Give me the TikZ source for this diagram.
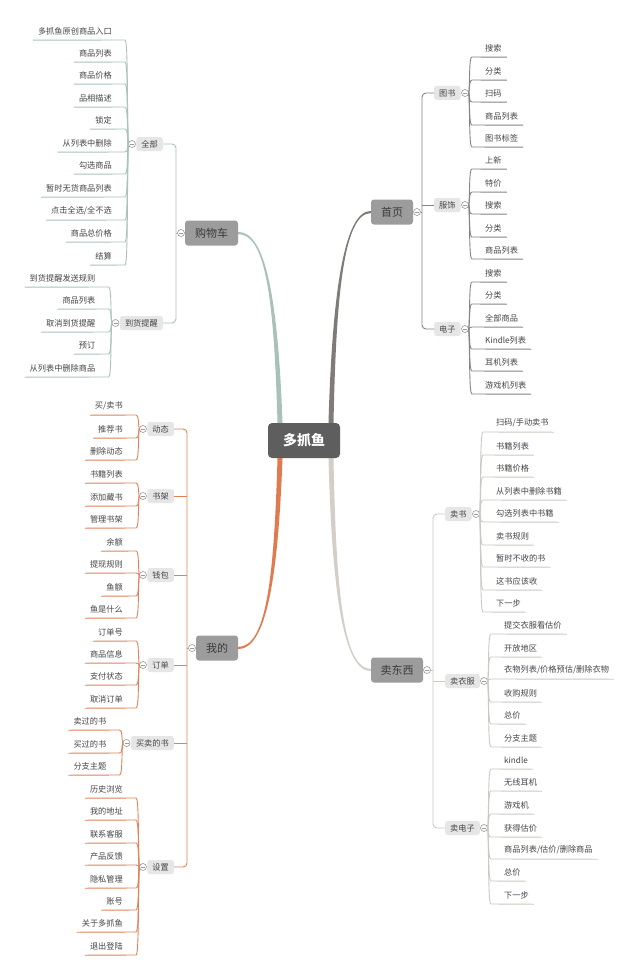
\documentclass[tikz,border=0pt]{standalone}
\usepackage{fontspec}
\setmainfont{Noto Sans CJK SC}
\usetikzlibrary{backgrounds}
\definecolor{cgreen}{HTML}{A8C2B9}
\definecolor{cgrey}{HTML}{7F7B76}
\definecolor{corange}{HTML}{E07B50}
\definecolor{cbeige}{HTML}{D3CFC7}
\definecolor{lgreen}{HTML}{A9C3BA}
\definecolor{lgrey}{HTML}{858585}
\definecolor{lorange}{HTML}{E0825A}
\definecolor{lbeige}{HTML}{CDC9C1}
\definecolor{togc}{HTML}{9A9A9A}
\definecolor{txt}{HTML}{454545}
\definecolor{subf}{HTML}{E6E6E6}
\definecolor{mainf}{HTML}{9C9C9C}
\definecolor{maint}{HTML}{3A3A3A}
\definecolor{ctrf}{HTML}{5E5E5E}
\newcommand\fanL[4]{%
  \foreach \yy/\lbl [count=\ii] in {#4} {%
    \pgfmathsetmacro\uy{\yy+9}%
    \pgfmathsetmacro\my{#3+0.4*(\yy+9-#3)}%
    \node[leaf, anchor=east] (#1-\ii) at (#2-15, \yy) {\lbl};
    \draw[thinln] (#1-\ii.south west) -- (#2-7, \uy) .. controls (#2-4, \uy) and (#2-5, \my) .. (#1.west);
  }}
\newcommand\fanR[4]{%
  \foreach \yy/\lbl [count=\ii] in {#4} {%
    \pgfmathsetmacro\uy{\yy+9}%
    \pgfmathsetmacro\my{#3+0.4*(\yy+9-#3)}%
    \node[leaf, anchor=west] (#1-\ii) at (#2+15, \yy) {\lbl};
    \draw[thinln] (#1.east) .. controls (#2+5, \my) and (#2+4, \uy) .. (#2+7, \uy) -- (#1-\ii.south east);
  }}
\begin{document}
\begin{tikzpicture}[x=1pt,y=-1pt,
  leaf/.style={inner xsep=5pt, inner ysep=0pt, minimum height=18pt, text=txt, font=\fontsize{8.2}{10}\selectfont},
  sub/.style={fill=subf, rounded corners=2.5pt, inner xsep=5pt, inner ysep=0pt, minimum height=14pt, text=txt, font=\fontsize{8.2}{10}\selectfont},
  mainbox/.style={fill=mainf, rounded corners=3pt, minimum height=25pt, inner xsep=0pt, text=maint, font=\fontsize{11}{13}\selectfont},
  ctrbox/.style={fill=ctrf, rounded corners=4pt, minimum width=72pt, minimum height=35pt, text=white, font=\bfseries\fontsize{14}{16}\selectfont},
  tog/.style={circle, draw=togc, fill=white, inner sep=0pt, minimum size=7pt, line width=0.6pt,
    path picture={\draw[togc, line width=0.6pt] ([xshift=-2pt]path picture bounding box.center) -- ([xshift=2pt]path picture bounding box.center);}},
  thinln/.style={draw=lgrey, line width=0.9pt}]
\useasboundingbox (0,0) rectangle (640,979);

\node[ctrbox] (ctr) at (304,440.5) {多抓鱼};

% ---------- 购物车 ----------
\begin{scope}[thinln/.style={draw=lgreen, line width=0.9pt}]
\node[mainbox, minimum width=53pt] (gw) at (211.5,233) {购物车};
\node[tog] (gwc) at (181,233) {};
\coordinate (gwT) at (176,233);
\node[sub, anchor=east] (qb) at (163,144) {全部};
\node[tog] (qbc) at (132,144) {};
\node[sub, anchor=east] (dh) at (163,323) {到货提醒};
\node[tog] (dhc) at (115.5,323) {};
\draw[thinln, rounded corners=4pt] (qb.east) -| (gwT) |- (dh.east);
\draw[thinln] (gwT) -- (gwc.west);
\fanL{qbc}{132}{144}{31/多抓鱼原创商品入口, 53/商品列表, 75/商品价格, 98/品相描述, 120/锁定, 143/从列表中删除, 165/勾选商品, 188/暂时无货商品列表, 211/{点击全选/全不选}, 233/商品总价格, 256/结算}
\fanL{dhc}{115.5}{323}{278/到货提醒发送规则, 300/商品列表, 323/取消到货提醒, 345/预订, 368/从列表中删除商品}
\end{scope}

% ---------- 首页 ----------
\begin{scope}[thinln/.style={draw=lgrey, line width=0.9pt}]
\node[mainbox, minimum width=42pt] (sy) at (392,212) {首页};
\node[tog] (syc) at (417,212) {};
\coordinate (syT) at (422,212);
\node[sub, anchor=west] (ts) at (434,93) {图书};
\node[tog] (tsc) at (465,93) {};
\node[sub, anchor=west] (fs) at (434,205) {服饰};
\node[tog] (fsc) at (465,205) {};
\node[sub, anchor=west] (dz) at (434,329) {电子};
\node[tog] (dzc) at (465,329) {};
\draw[thinln, rounded corners=4pt] (ts.west) -| (syT) |- (dz.west);
\draw[thinln] (fs.west) -- (fs.west -| syT);
\draw[thinln] (syc.east) -- (syT);
\fanR{tsc}{465}{93}{48/搜索, 71/分类, 93/扫码, 116/商品列表, 138/图书标签}
\fanR{fsc}{465}{205}{160/上新, 183/特价, 205/搜索, 228/分类, 250/商品列表}
\fanR{dzc}{465}{329}{273/搜索, 295/分类, 318/全部商品, 340/Kindle列表, 362/耳机列表, 385/游戏机列表}
\end{scope}

% ---------- 我的 ----------
\begin{scope}[thinln/.style={draw=lorange, line width=0.9pt}]
\node[mainbox, minimum width=42pt] (wd) at (217,648) {我的};
\node[tog] (wdc) at (192,648) {};
\coordinate (wdT) at (187,648);
\node[sub, anchor=east] (dt) at (174,429) {动态};
\node[tog] (dtc) at (143,429) {};
\node[sub, anchor=east] (sj) at (174,496) {书架};
\node[tog] (sjc) at (143,496) {};
\node[sub, anchor=east] (qbao) at (174,575) {钱包};
\node[tog] (qbaoc) at (143,575) {};
\node[sub, anchor=east] (dd) at (174,665) {订单};
\node[tog] (ddc) at (143,665) {};
\node[sub, anchor=east] (mm) at (174,743) {买卖的书};
\node[tog] (mmc) at (126.5,743) {};
\node[sub, anchor=east] (sz) at (174,867) {设置};
\node[tog] (szc) at (143,867) {};
\draw[thinln, rounded corners=4pt] (dt.east) -| (wdT) |- (sz.east);
\foreach \n in {sj,qbao,dd,mm} \draw[thinln] (\n.east) -- (\n.east -| wdT);
\draw[thinln] (wdT) -- (wdc.west);
\fanL{dtc}{143}{429}{406/{买/卖书}, 429/推荐书, 451/删除动态}
\fanL{sjc}{143}{496}{474/书籍列表, 497/添加藏书, 519/管理书架}
\fanL{qbaoc}{143}{575}{542/余额, 564/提现规则, 587/鱼额, 609/鱼是什么}
\fanL{ddc}{143}{665}{632/订单号, 654/商品信息, 676/支付状态, 699/取消订单}
\fanL{mmc}{126.5}{743}{721/卖过的书, 744/买过的书, 766/分支主题}
\fanL{szc}{143}{867}{789/历史浏览, 811/我的地址, 834/联系客服, 856/产品反馈, 879/隐私管理, 901/账号, 923/关于多抓鱼, 946/退出登陆}
\end{scope}

% ---------- 卖东西 ----------
\begin{scope}[thinln/.style={draw=lbeige, line width=0.9pt}]
\node[mainbox, minimum width=52pt] (md) at (397,670) {卖东西};
\node[tog] (mdc) at (427,670) {};
\coordinate (mdT) at (433,670);
\node[sub, anchor=west] (ms) at (445,514) {卖书};
\node[tog] (msc) at (476,514) {};
\node[sub, anchor=west] (myf) at (445,681) {卖衣服};
\node[tog] (myfc) at (484,681) {};
\node[sub, anchor=west] (mdz) at (445,828) {卖电子};
\node[tog] (mdzc) at (484,828) {};
\draw[thinln, rounded corners=4pt] (ms.west) -| (mdT) |- (mdz.west);
\draw[thinln] (myf.west) -- (myf.west -| mdT);
\draw[thinln] (mdc.east) -- (mdT);
\fanR{msc}{476}{514}{423/{扫码/手动卖书}, 446/书籍列表, 468/书籍价格, 491/从列表中删除书籍, 513/勾选列表中书籍, 536/卖书规则, 558/暂时不收的书, 581/这书应该收, 603/下一步}
\fanR{myfc}{484}{681}{625/提交衣服看估价, 648/开放地区, 670/{衣物列表/价格预估/删除衣物}, 693/收购规则, 715/总价, 738/分支主题}
\fanR{mdzc}{484}{828}{760/kindle, 782/无线耳机, 805/游戏机, 828/获得估价, 850/{商品列表/估价/删除商品}, 872/总价, 895/下一步}
\end{scope}

% ---------- thick branches ----------
\begin{scope}[on background layer]
\fill[white] (0,0) rectangle (640,979);
\fill[cgreen] ([xshift=-21.5pt]ctr.north) .. controls (278,300) and (266,231.9) .. ([yshift=1.1pt]gw.east)
  -- ([yshift=-1.1pt]gw.east) .. controls (266,234.1) and (274,300) .. ([xshift=-26.5pt]ctr.north) -- cycle;
\fill[cgrey] ([xshift=24.5pt]ctr.north) .. controls (332,300) and (343,210.9) .. ([yshift=1.1pt]sy.west)
  -- ([yshift=-1.1pt]sy.west) .. controls (343,213.1) and (336,300) .. ([xshift=29.5pt]ctr.north) -- cycle;
\fill[corange] ([xshift=-21.5pt]ctr.south) .. controls (278,580) and (266,649.1) .. ([yshift=-1.1pt]wd.east)
  -- ([yshift=1.1pt]wd.east) .. controls (266,646.9) and (274,580) .. ([xshift=-26.5pt]ctr.south) -- cycle;
\fill[cbeige] ([xshift=24.5pt]ctr.south) .. controls (332,590) and (343,671.1) .. ([yshift=-1.1pt]md.west)
  -- ([yshift=1.1pt]md.west) .. controls (343,668.9) and (336,590) .. ([xshift=29.5pt]ctr.south) -- cycle;
\end{scope}
\end{tikzpicture}
\end{document}
